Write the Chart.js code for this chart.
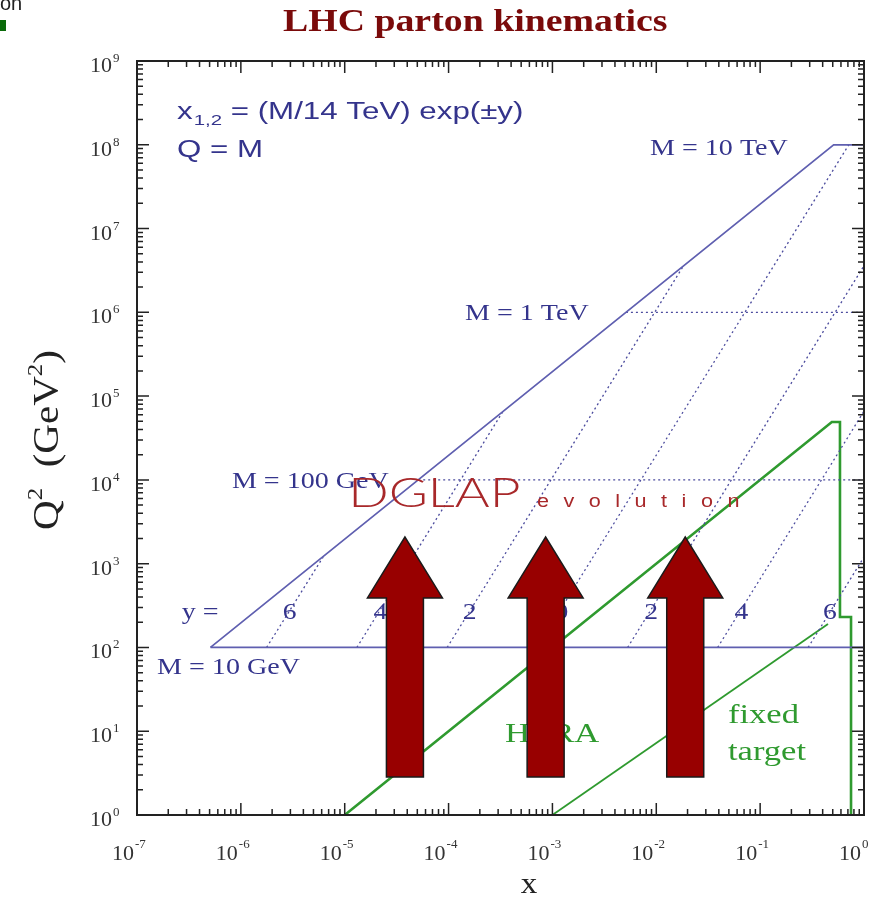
<!DOCTYPE html>
<html>
<head>
<meta charset="utf-8">
<script src="https://cdn.jsdelivr.net/npm/chart.js@4.4.0/dist/chart.umd.min.js"></script>
<style>
  html, body { margin: 0; padding: 0; background: #fff; }
  #chart { display: block; }
</style>
</head>
<body>
<canvas id="chart" width="882" height="902"></canvas>
<script>
// axis ranges (log10 decades)
const xDecades = [-7, -6, -5, -4, -3, -2, -1, 0]
const q2Decades = [0, 1, 2, 3, 4, 5, 6, 7, 8, 9]

// LHC kinematic edge: Q^2 = x s up to M = 10 TeV, and the M = 10 GeV floor
const lhcEdgeX = [5.1e-7, 0.51, 1]
const lhcEdgeQ2 = [100, 1e8, 1e8]
const lhcFloorX = [5.1e-7, 1]
const lhcFloorQ2 = [100, 100]

// fixed mass lines, M = 100 GeV and M = 1 TeV
const massLineX = [[5.1e-5, 1], [5.1e-3, 1]]
const massLineQ2 = [[1e4, 1e4], [1e6, 1e6]]

// lines of constant rapidity y
const rapidity = [6, 4, 2, 0, 2, 4, 6]
const rapStartX = [1.77e-6, 1.31e-5, 9.7e-5, 7.1e-4, 5.3e-3, 0.039, 0.29]
const rapStartQ2 = [100, 100, 100, 100, 100, 100, 100]
const rapEndX = [6.2e-6, 3.35e-4, 0.0183, 0.714, 1, 1, 1]
const rapEndQ2 = [1200, 6.6e4, 3.6e6, 1e8, 3.6e6, 6.6e4, 1200]
// where the y values are written along the lines
const rapLabelX = [2.95e-6, 2.2e-5, 1.6e-4, 1.22e-3, 8.9e-3, 0.066, 0.47]
const rapLabelQ2 = 218

// HERA and fixed target coverage
const heraX = [1e-5, 0.49, 0.587, 0.587, 0.75, 0.75]
const heraQ2 = [1, 4.9e4, 4.9e4, 231, 231, 1]
const fixedX = [1e-3, 0.45]
const fixedQ2 = [1, 190]

// DGLAP evolution arrows
const arrowX = [3.8e-5, 8.6e-4, 1.9e-2]
const arrowTailQ2 = 2.85
const arrowBaseQ2 = 390
const arrowTipQ2 = 2080

const SERIF = '"Liberation Serif", "Times New Roman", serif'
const SANS = '"Liberation Sans", Arial, sans-serif'
const BLUE_LINE = '#5f5fb0'
const BLUE_DOT = '#4c4c9e'
const BLUE_TEXT = '#34348c'
const GREEN = '#2f9a2f'

const pts = (xs, qs) => xs.map((x, i) => ({ x, y: qs[i] }))

const datasets = []
datasets.push({ data: pts(lhcEdgeX, lhcEdgeQ2), borderColor: BLUE_LINE, borderWidth: 1.7 })
datasets.push({ data: pts(lhcFloorX, lhcFloorQ2), borderColor: BLUE_LINE, borderWidth: 1.7 })
massLineX.forEach((xs, i) => {
  datasets.push({ data: pts(xs, massLineQ2[i]), borderColor: BLUE_DOT, borderWidth: 1.3, borderDash: [2, 3] })
})
rapidity.forEach((y, i) => {
  datasets.push({
    data: pts([rapStartX[i], rapEndX[i]], [rapStartQ2[i], rapEndQ2[i]]),
    borderColor: BLUE_DOT, borderWidth: 1.3, borderDash: [2, 3]
  })
})
datasets.push({ data: pts(heraX, heraQ2), borderColor: GREEN, borderWidth: 2.6 })
datasets.push({ data: pts(fixedX, fixedQ2), borderColor: GREEN, borderWidth: 1.8 })

// text drawn with a horizontal stretch, anchored at baseline (x, y)
function stretchText (ctx, str, x, y, font, color, sx = 1, align = 'left') {
  ctx.save()
  ctx.font = font
  ctx.fillStyle = color
  ctx.textAlign = 'left'
  ctx.textBaseline = 'alphabetic'
  const w = ctx.measureText(str).width * sx
  let x0 = x
  if (align === 'center') x0 = x - w / 2
  if (align === 'right') x0 = x - w
  ctx.translate(x0, y)
  ctx.scale(sx, 1)
  ctx.fillText(str, 0, 0)
  ctx.restore()
  return w
}

const notes = [
  { text: 'M = 10 TeV', x: 8.7e-3, q2: 7.55e7 },
  { text: 'M = 1 TeV', x: 1.44e-4, q2: 8.1e5 },
  { text: 'M = 100 GeV', x: 8.2e-7, q2: 8.0e3 },
  { text: 'M = 10 GeV', x: 1.56e-7, q2: 48 },
  { text: 'y =', x: 2.7e-7, q2: 218 }
]
const greenNotes = [
  { text: 'HERA', x: 3.5e-4, q2: 7.4 },
  { text: 'fixed', x: 0.049, q2: 12.5 },
  { text: 'target', x: 0.049, q2: 4.5 }
]

const kinematics = {
  id: 'kinematics',
  afterDatasetsDraw (chart) {
    const ctx = chart.ctx
    const px = v => chart.scales.x.getPixelForValue(v)
    const py = v => chart.scales.y.getPixelForValue(v)

    // formula in the corner
    let x0 = px(2.43e-7)
    const yb = py(2.05e8)
    x0 += stretchText(ctx, 'x', x0, yb, `23px ${SANS}`, BLUE_TEXT, 1.36)
    x0 += stretchText(ctx, '1,2', x0 + 1, yb + 6, `15px ${SANS}`, BLUE_TEXT, 1.36) + 1
    stretchText(ctx, ' = (M/14 TeV) exp(\u00b1y)', x0, yb, `23px ${SANS}`, BLUE_TEXT, 1.36)
    stretchText(ctx, 'Q = M', px(2.43e-7), py(7.2e7), `23px ${SANS}`, BLUE_TEXT, 1.36)

    notes.forEach(n => stretchText(ctx, n.text, px(n.x), py(n.q2), `23px ${SERIF}`, BLUE_TEXT, 1.22))
    rapidity.forEach((y, i) => {
      stretchText(ctx, String(y), px(rapLabelX[i]), py(rapLabelQ2), `23px ${SERIF}`, BLUE_TEXT, 1.2, 'center')
    })
    greenNotes.forEach(n => stretchText(ctx, n.text, px(n.x), py(n.q2), `27px ${SERIF}`, GREEN, 1.28))

    // DGLAP evolution
    stretchText(ctx, 'DGLAP', px(1.08e-5), py(4.75e3), `300 41px Lato, ${SANS}`, '#a8282a', 1.3)
    let ex = px(7.1e-4)
    for (const ch of 'evolution') {
      const w = stretchText(ctx, ch, ex, py(4.75e3), `18px ${SANS}`, '#a8282a', 1.2)
      ex += w + 14.5
    }

    // arrows
    ctx.save()
    ctx.fillStyle = '#980000'
    ctx.strokeStyle = '#1a1a1a'
    ctx.lineWidth = 1.5
    ctx.lineJoin = 'miter'
    arrowX.forEach(xv => {
      const cx = px(xv)
      const yt = py(arrowTailQ2)
      const yb2 = py(arrowBaseQ2)
      const yp = py(arrowTipQ2)
      ctx.beginPath()
      ctx.moveTo(cx - 18.5, yt)
      ctx.lineTo(cx - 18.5, yb2)
      ctx.lineTo(cx - 37.5, yb2)
      ctx.lineTo(cx, yp)
      ctx.lineTo(cx + 37.5, yb2)
      ctx.lineTo(cx + 18.5, yb2)
      ctx.lineTo(cx + 18.5, yt)
      ctx.closePath()
      ctx.fill()
      ctx.stroke()
    })
    ctx.restore()
  },
  afterDraw (chart) {
    const ctx = chart.ctx
    const { left, right, top, bottom } = chart.chartArea
    const px = v => chart.scales.x.getPixelForValue(v)
    const py = v => chart.scales.y.getPixelForValue(v)

    ctx.save()
    ctx.strokeStyle = '#222'
    ctx.lineWidth = 2
    ctx.strokeRect(left, top, right - left, bottom - top)

    // inward log ticks on all four sides
    ctx.lineWidth = 1.5
    ctx.beginPath()
    xDecades.forEach(d => {
      for (let k = 1; k <= 9; k++) {
        const v = k * Math.pow(10, d)
        if (v > 1) break
        const x = px(v)
        const len = k === 1 ? 12 : 6
        ctx.moveTo(x, bottom); ctx.lineTo(x, bottom - len)
        ctx.moveTo(x, top); ctx.lineTo(x, top + len)
      }
    })
    q2Decades.forEach(d => {
      for (let k = 1; k <= 9; k++) {
        const v = k * Math.pow(10, d)
        if (v > 1e9) break
        const y = py(v)
        const len = k === 1 ? 12 : 6
        ctx.moveTo(left, y); ctx.lineTo(left + len, y)
        ctx.moveTo(right, y); ctx.lineTo(right - len, y)
      }
    })
    ctx.stroke()
    ctx.restore()

    // tick labels
    const tickColor = '#333'
    xDecades.forEach(d => {
      const x = px(Math.pow(10, d))
      stretchText(ctx, '10', x - 3, bottom + 45, `22px ${SERIF}`, tickColor, 1, 'right')
      stretchText(ctx, String(d), x - 2, bottom + 33, `13px ${SERIF}`, tickColor)
    })
    q2Decades.forEach(d => {
      const y = py(Math.pow(10, d))
      stretchText(ctx, '10', left - 25, y + 11, `22px ${SERIF}`, tickColor, 1, 'right')
      stretchText(ctx, String(d), left - 24, y + 1, `13px ${SERIF}`, tickColor)
    })

    // axis titles
    stretchText(ctx, 'x', 529, 893, `30px ${SERIF}`, '#222', 1.1, 'center')
    ctx.save()
    ctx.translate(58, 440)
    ctx.rotate(-Math.PI / 2)
    ctx.scale(1, 1.25)
    const parts = [['Q', 28, 0], ['2', 17, -13], ['  (GeV', 28, 0], ['2', 17, -13], [')', 28, 0]]
    let total = 0
    parts.forEach(p => { ctx.font = `${p[1]}px ${SERIF}`; total += ctx.measureText(p[0]).width })
    const sx = 180 / total
    let tx = -total * sx / 2
    parts.forEach(p => {
      tx += stretchText(ctx, p[0], tx, p[2], `${p[1]}px ${SERIF}`, '#222', sx)
    })
    ctx.restore()

    // title
    stretchText(ctx, 'LHC parton kinematics', 283, 31, `bold 31px ${SERIF}`, '#7a0a0a', 1.22)

    // bits of the surrounding slide
    stretchText(ctx, 'on', 0, 10, `20px ${SANS}`, '#222')
    ctx.fillStyle = '#0a6a0a'
    ctx.fillRect(0, 20, 6, 11)
  }
}

new Chart(document.getElementById('chart'), {
  type: 'scatter',
  data: { datasets },
  options: {
    responsive: false,
    animation: false,
    showLine: true,
    layout: { padding: { left: 137, top: 61, right: 18, bottom: 87 } },
    elements: {
      point: { radius: 0, hoverRadius: 0 },
      line: { tension: 0, fill: false, borderCapStyle: 'butt' }
    },
    scales: {
      x: { type: 'logarithmic', min: 1e-7, max: 1, display: false },
      y: { type: 'logarithmic', min: 1, max: 1e9, display: false }
    },
    plugins: {
      legend: { display: false },
      tooltip: { enabled: false },
      title: { display: false }
    }
  },
  plugins: [kinematics]
})
</script>
</body>
</html>
